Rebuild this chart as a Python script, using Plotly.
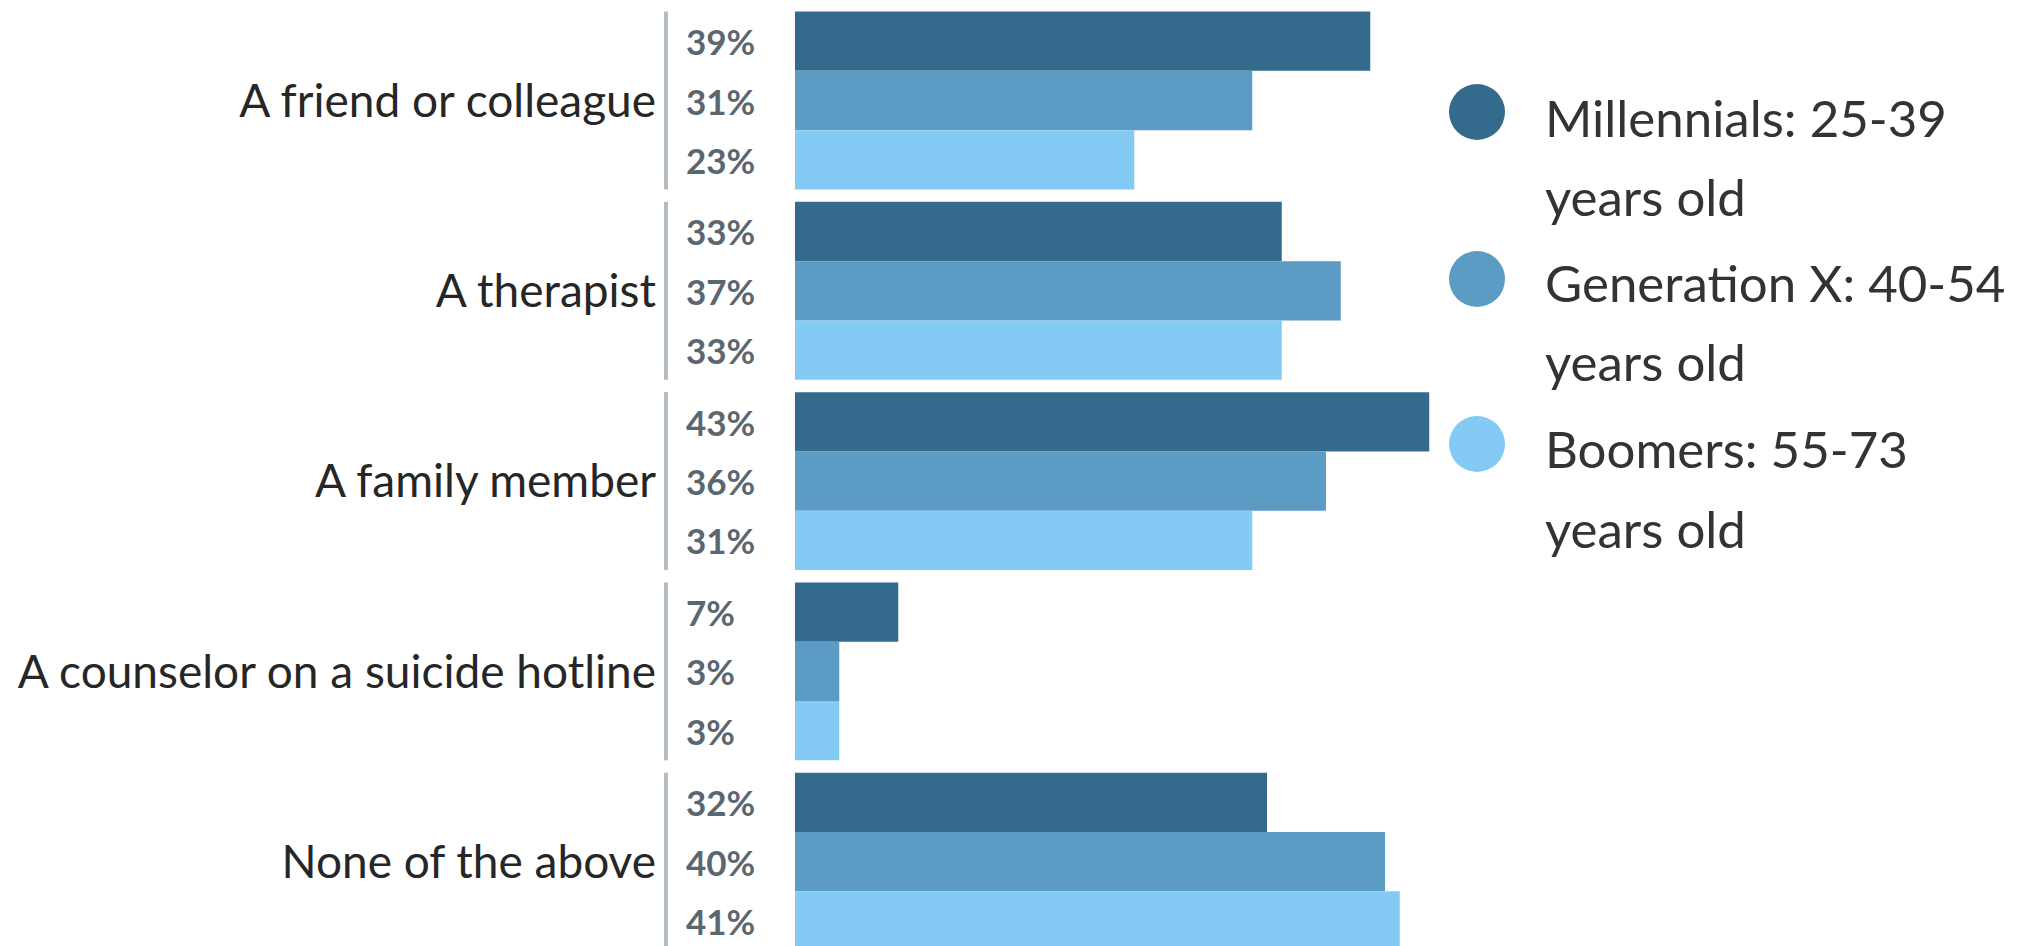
import plotly.graph_objects as go

categories = ["A friend or colleague", "A therapist", "A family member",
              "A counselor on a suicide hotline", "None of the above"]
series_names = ["Millennials: 25-39", "Generation X: 40-54", "Boomers: 55-73"]
series_sub = ["years old", "years old", "years old"]
millennials = [39, 33, 43, 7, 32]
genx = [31, 37, 36, 3, 40]
boomers = [23, 33, 31, 3, 41]
colors = ["#346B8C", "#5B9BC4", "#83CAF5"]

W, H = 2020, 946
L, R = 795, 580
plot_w = W - L - R
px_per_pct = 14.75
xmax = plot_w / px_per_pct
group_px = 190.3
first_center = 100.5
y_top = -first_center / group_px
y_bot = (H - first_center) / group_px
bargap = 0.065
bw = (1 - bargap) / 3

pos = list(range(len(categories)))
fig = go.Figure()
all_series = [millennials, genx, boomers]
for name, vals, col in zip(series_names, all_series, colors):
    fig.add_trace(go.Bar(y=pos, x=vals, orientation="h", name=name,
                         marker=dict(color=col, line=dict(width=0)),
                         showlegend=False, hoverinfo="x+y"))

annotations = []
shapes = []
line_x = (666 - L) / plot_w
for i in pos:
    for k, vals in enumerate(all_series):
        annotations.append(dict(x=0, y=i + (k - 1) * bw, xref="x", yref="y",
                                text=f"{vals[i]}%", showarrow=False,
                                xanchor="left", yanchor="middle", xshift=-111,
                                font=dict(family="Lato", size=35, color="#5B6770", weight=700)))
    shapes.append(dict(type="line", xref="paper", yref="y",
                       x0=line_x, x1=line_x, y0=i - (1 - bargap) / 2, y1=i + (1 - bargap) / 2,
                       line=dict(color="#B3BCC3", width=4)))

# legend (manual, circles)
leg_cx = 1477
leg_tx = 1543
leg_circle_y = [112, 279, 444]
leg_line1_y = [118, 283, 448]
leg_line2_y = [196, 361, 528]
for k in range(3):
    shapes.append(dict(type="circle", xref="paper", yref="paper",
                       xsizemode="pixel", ysizemode="pixel",
                       xanchor=(leg_cx - L) / plot_w, yanchor=1 - leg_circle_y[k] / H,
                       x0=-28, x1=28, y0=-28, y1=28,
                       fillcolor=colors[k], line=dict(width=0)))
    annotations.append(dict(x=(leg_tx - L) / plot_w, y=1 - leg_line1_y[k] / H,
                            xref="paper", yref="paper", text=series_names[k],
                            showarrow=False, xanchor="left", yanchor="middle",
                            font=dict(family="Lato", size=51, color="#333333")))
    annotations.append(dict(x=(leg_tx - L) / plot_w, y=1 - leg_line2_y[k] / H,
                            xref="paper", yref="paper", text=series_sub[k],
                            showarrow=False, xanchor="left", yanchor="middle",
                            font=dict(family="Lato", size=51, color="#333333")))

fig.update_layout(
    width=W, height=H,
    margin=dict(l=L, r=R, t=0, b=0, pad=0),
    barmode="group", bargap=bargap, bargroupgap=0,
    plot_bgcolor="white", paper_bgcolor="white",
    xaxis=dict(range=[0, xmax], visible=False, fixedrange=True),
    yaxis=dict(range=[y_bot, y_top], tickvals=pos, ticktext=categories,
               showgrid=False, zeroline=False, showline=False, ticks="",
               ticklabelstandoff=138,
               tickfont=dict(family="Lato", size=46, color="#262626")),
    annotations=annotations, shapes=shapes,
    showlegend=False,
)
fig.write_html("out.html")
